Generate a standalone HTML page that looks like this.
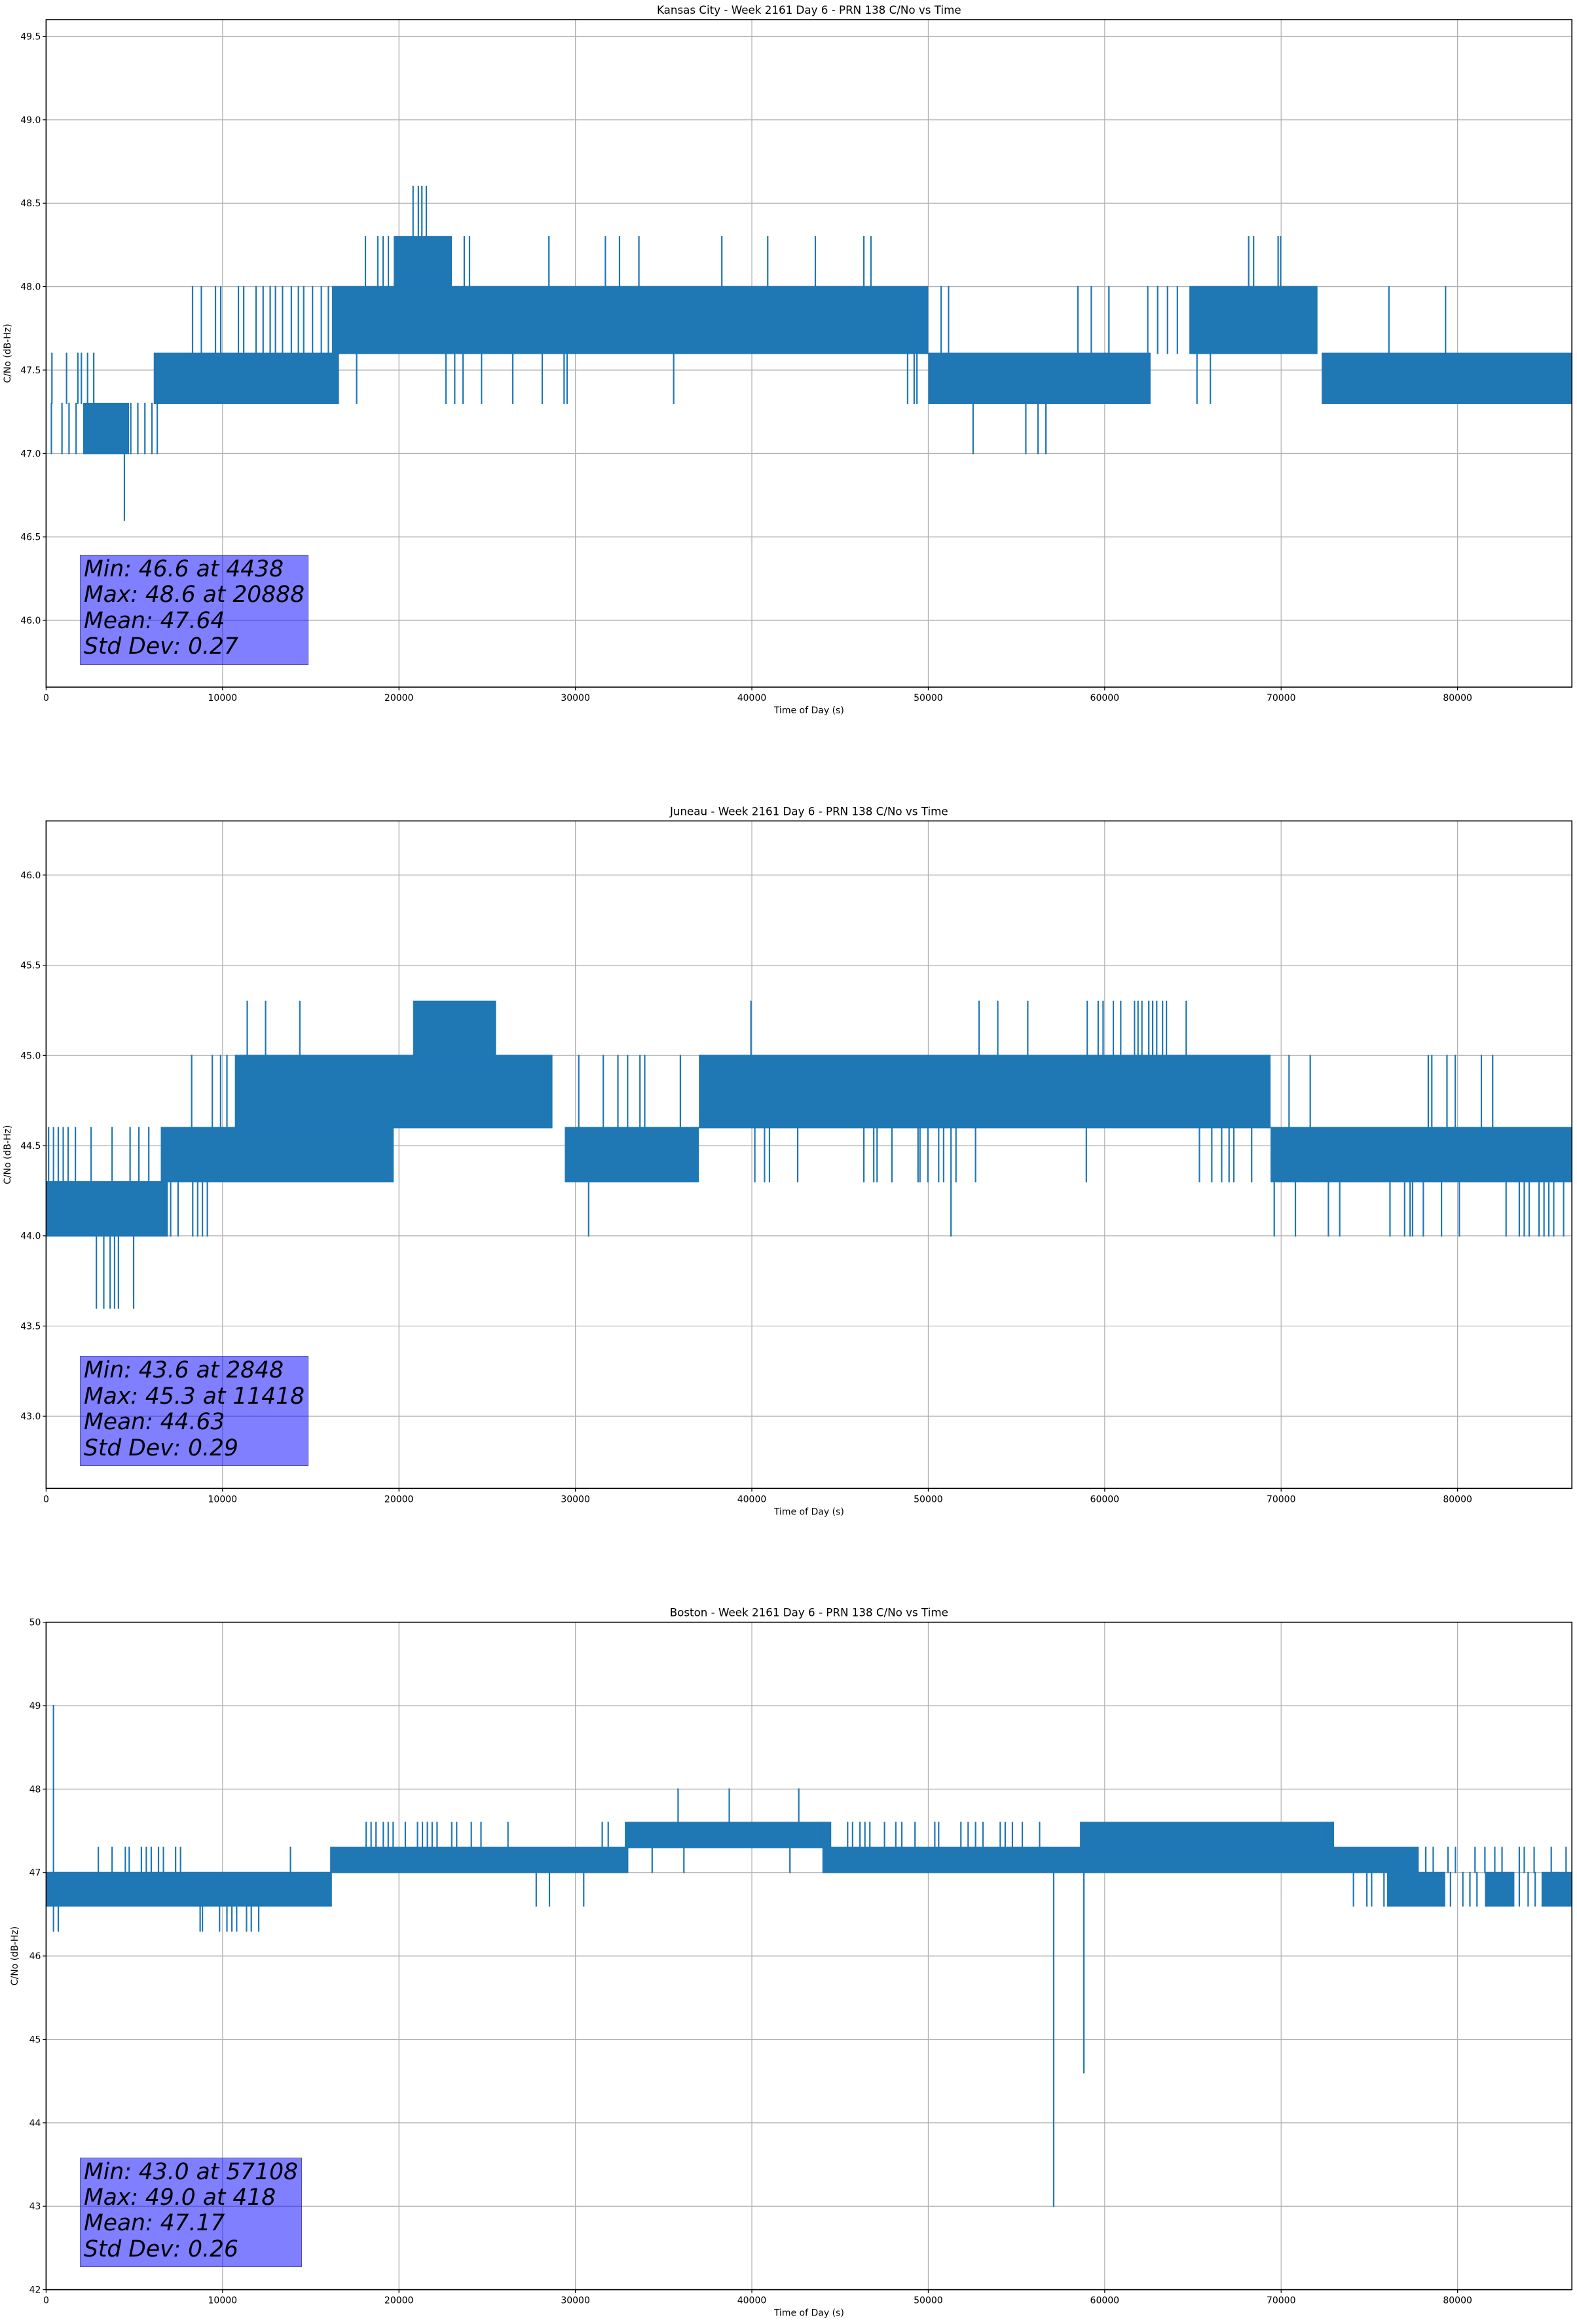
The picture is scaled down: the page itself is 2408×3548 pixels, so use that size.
<!DOCTYPE html>
<html><head><meta charset="utf-8">
<style>
html,body{margin:0;padding:0;background:#fff;}
body{width:2408px;height:3548px;position:relative;overflow:hidden;font-family:"DejaVu Sans","Liberation Sans",sans-serif;}
svg{position:absolute;left:0;top:0;}
.stats{position:absolute;background:rgba(0,0,255,0.5);border:1.5px solid rgba(0,0,0,0.35);padding:2px 5px 6px 5px;font-style:italic;font-size:34.5px;line-height:39.4px;color:#000;white-space:nowrap;font-family:"DejaVu Sans","Liberation Sans",sans-serif;}
</style></head>
<body>
<svg id="chart" width="2408" height="3548" xmlns="http://www.w3.org/2000/svg"></svg>
<div class="stats" id="stats0">Min: 46.6 at 4438<br>Max: 48.6 at 20888<br>Mean: 47.64<br>Std Dev: 0.27</div>
<div class="stats" id="stats1">Min: 43.6 at 2848<br>Max: 45.3 at 11418<br>Mean: 44.63<br>Std Dev: 0.29</div>
<div class="stats" id="stats2">Min: 43.0 at 57108<br>Max: 49.0 at 418<br>Mean: 47.17<br>Std Dev: 0.26</div>
<script>
// ---------- data ----------
const titles = ["Kansas City - Week 2161 Day 6 - PRN 138 C/No vs Time","Juneau - Week 2161 Day 6 - PRN 138 C/No vs Time","Boston - Week 2161 Day 6 - PRN 138 C/No vs Time"];
const xTicks = [0,10000,20000,30000,40000,50000,60000,70000,80000];
const xMax = 86480;
const yMins = [45.6, 42.6, 42];
const yMaxs = [49.6, 46.3, 50];
const yTicks0 = [46.0,46.5,47.0,47.5,48.0,48.5,49.0,49.5];
const yTicks1 = [43.0,43.5,44.0,44.5,45.0,45.5,46.0];
const yTicks2 = [42,43,44,45,46,47,48,49,50];

// Kansas City
const kcBandStart = [2100,6100,16200,19700,50000,64800,72300];
const kcBandEnd   = [4700,16600,50000,23000,62600,72060,86480];
const kcBandLow   = [47.0,47.3,47.6,48.0,47.3,47.6,47.3];
const kcBandHigh  = [47.3,47.6,48.0,48.3,47.6,48.0,47.6];
const kcSpikeT    = [330,1160,1800,2000,2350,2700,300,900,1300,1700,4438,4800,5200,5600,6000,6300,8300,8800,9600,9900,10900,11200,11900,12300,12700,13000,13400,13900,14300,14600,15100,15600,16000,18100,18800,19100,19400,23700,24000,28500,31700,32500,33600,38300,40900,43600,46350,46750,68160,68440,69830,69970,20800,21100,21300,21550,17600,22660,23160,23630,24680,26450,28120,29360,29530,35570,48830,49200,49360,52540,55530,56220,56670,50730,51150,58480,59240,60240,62440,63000,63560,64120,65230,65990,76110,79320];
const kcSpikeLow  = [47.3,47.3,47.3,47.3,47.3,47.3,47.0,47.0,47.0,47.0,46.6,47.0,47.0,47.0,47.0,47.0,47.6,47.6,47.6,47.6,47.6,47.6,47.6,47.6,47.6,47.6,47.6,47.6,47.6,47.6,47.6,47.6,47.6,48.0,48.0,48.0,48.0,48.0,48.0,48.0,48.0,48.0,48.0,48.0,48.0,48.0,48.0,48.0,48.0,48.0,48.0,48.0,48.3,48.3,48.3,48.3,47.3,47.3,47.3,47.3,47.3,47.3,47.3,47.3,47.3,47.3,47.3,47.3,47.3,47.0,47.0,47.0,47.0,47.6,47.6,47.6,47.6,47.6,47.6,47.6,47.6,47.6,47.3,47.3,47.6,47.6];
const kcSpikeHigh = [47.6,47.6,47.6,47.6,47.6,47.6,47.3,47.3,47.3,47.3,47.0,47.3,47.3,47.3,47.3,47.3,48.0,48.0,48.0,48.0,48.0,48.0,48.0,48.0,48.0,48.0,48.0,48.0,48.0,48.0,48.0,48.0,48.0,48.3,48.3,48.3,48.3,48.3,48.3,48.3,48.3,48.3,48.3,48.3,48.3,48.3,48.3,48.3,48.3,48.3,48.3,48.3,48.6,48.6,48.6,48.6,47.6,47.6,47.6,47.6,47.6,47.6,47.6,47.6,47.6,47.6,47.6,47.6,47.6,47.3,47.3,47.3,47.3,48.0,48.0,48.0,48.0,48.0,48.0,48.0,48.0,48.0,47.6,47.6,48.0,48.0];

// Juneau
const jnBandStart = [0,6500,10700,20800,29400,37000,69400];
const jnBandEnd   = [6900,19700,28700,25500,37000,69400,86480];
const jnBandLow   = [44.0,44.3,44.6,45.0,44.3,44.6,44.3];
const jnBandHigh  = [44.3,44.6,45.0,45.3,44.6,45.0,44.6];
const jnSpikeT    = [140,420,690,970,1250,1660,2550,3740,4760,5260,5820,2850,3270,3630,3880,4100,4960,7060,7480,8310,8590,8860,9140,8250,9420,9890,10250,11400,12440,14380,39950,52880,53940,55640,59010,59630,59910,60490,60910,61690,61890,62110,62500,62720,62950,63280,63500,64620,40170,40720,41000,42600,46350,46910,47100,47940,49420,49530,49980,50590,50870,51290,51570,52680,58960,65370,66070,66630,67050,67320,68330,51290,70450,71650,78340,78540,79400,79870,81350,81990,30190,31580,32410,32960,33660,33930,35950,30750,69610,70810,72680,73320,76170,77000,77310,77450,78060,79090,80100,82750,83500,83780,84060,84620,84900,85170,85450,86010];
const jnSpikeLow  = [44.3,44.3,44.3,44.3,44.3,44.3,44.3,44.3,44.3,44.3,44.3,43.6,43.6,43.6,43.6,43.6,43.6,44.0,44.0,44.0,44.0,44.0,44.0,44.6,44.6,44.6,44.6,45.0,45.0,45.0,45.0,45.0,45.0,45.0,45.0,45.0,45.0,45.0,45.0,45.0,45.0,45.0,45.0,45.0,45.0,45.0,45.0,45.0,44.3,44.3,44.3,44.3,44.3,44.3,44.3,44.3,44.3,44.3,44.3,44.3,44.3,44.3,44.3,44.3,44.3,44.3,44.3,44.3,44.3,44.3,44.3,44.0,44.6,44.6,44.6,44.6,44.6,44.6,44.6,44.6,44.6,44.6,44.6,44.6,44.6,44.6,44.6,44.0,44.0,44.0,44.0,44.0,44.0,44.0,44.0,44.0,44.0,44.0,44.0,44.0,44.0,44.0,44.0,44.0,44.0,44.0,44.0,44.0];
const jnSpikeHigh = [44.6,44.6,44.6,44.6,44.6,44.6,44.6,44.6,44.6,44.6,44.6,44.0,44.0,44.0,44.0,44.0,44.0,44.3,44.3,44.3,44.3,44.3,44.3,45.0,45.0,45.0,45.0,45.3,45.3,45.3,45.3,45.3,45.3,45.3,45.3,45.3,45.3,45.3,45.3,45.3,45.3,45.3,45.3,45.3,45.3,45.3,45.3,45.3,44.6,44.6,44.6,44.6,44.6,44.6,44.6,44.6,44.6,44.6,44.6,44.6,44.6,44.6,44.6,44.6,44.6,44.6,44.6,44.6,44.6,44.6,44.6,44.3,45.0,45.0,45.0,45.0,45.0,45.0,45.0,45.0,45.0,45.0,45.0,45.0,45.0,45.0,45.0,44.3,44.3,44.3,44.3,44.3,44.3,44.3,44.3,44.3,44.3,44.3,44.3,44.3,44.3,44.3,44.3,44.3,44.3,44.3,44.3,44.3];

// Boston
const bsBandStart = [0,16100,32800,58600,44000,76000,81550,84760];
const bsBandEnd   = [16200,33000,44500,73000,77800,79300,83220,86480];
const bsBandLow   = [46.6,47.0,47.3,47.3,47.0,46.6,46.6,46.6];
const bsBandHigh  = [47.0,47.3,47.6,47.6,47.3,47.0,47.0,47.0];
const bsSpikeT    = [418,420,690,8730,8860,9830,10250,10530,10800,11360,11630,12050,2960,3740,4490,4710,5400,5680,5960,6370,6650,7340,7620,13850,18140,18420,18700,19110,19390,19670,20360,21050,21330,21610,21880,22160,22990,23270,24100,24650,26180,31520,31860,27780,28530,30470,35820,38720,42660,34350,36150,42160,57108,58820,44040,45430,45710,46130,46410,46690,47520,48160,48500,49250,50370,50590,51850,52260,52680,53100,54080,54360,54770,55330,56310,78200,78620,79460,79880,80990,81550,82110,82520,83500,83780,84340,85310,86150,74100,74860,75130,75830,72620,72900,79600,80300,80700,81100,83500,84000,84400];
const bsSpikeLow  = [46.6,46.3,46.3,46.3,46.3,46.3,46.3,46.3,46.3,46.3,46.3,46.3,47.0,47.0,47.0,47.0,47.0,47.0,47.0,47.0,47.0,47.0,47.0,47.0,47.3,47.3,47.3,47.3,47.3,47.3,47.3,47.3,47.3,47.3,47.3,47.3,47.3,47.3,47.3,47.3,47.3,47.3,47.3,46.6,46.6,46.6,47.6,47.6,47.6,47.0,47.0,47.0,43.0,44.6,47.3,47.3,47.3,47.3,47.3,47.3,47.3,47.3,47.3,47.3,47.3,47.3,47.3,47.3,47.3,47.3,47.3,47.3,47.3,47.3,47.3,47.0,47.0,47.0,47.0,47.0,47.0,47.0,47.0,47.0,47.0,47.0,47.0,47.0,46.6,46.6,46.6,46.6,47.3,47.3,46.6,46.6,46.6,46.6,46.6,46.6,46.6];
const bsSpikeHigh = [49.0,46.6,46.6,46.6,46.6,46.6,46.6,46.6,46.6,46.6,46.6,46.6,47.3,47.3,47.3,47.3,47.3,47.3,47.3,47.3,47.3,47.3,47.3,47.3,47.6,47.6,47.6,47.6,47.6,47.6,47.6,47.6,47.6,47.6,47.6,47.6,47.6,47.6,47.6,47.6,47.6,47.6,47.6,47.0,47.0,47.0,48.0,48.0,48.0,47.3,47.3,47.3,47.0,47.0,47.6,47.6,47.6,47.6,47.6,47.6,47.6,47.6,47.6,47.6,47.6,47.6,47.6,47.6,47.6,47.6,47.6,47.6,47.6,47.6,47.6,47.3,47.3,47.3,47.3,47.3,47.3,47.3,47.3,47.3,47.3,47.3,47.3,47.3,47.0,47.0,47.0,47.0,47.6,47.6,47.0,47.0,47.0,47.0,47.0,47.0,47.0];

// ---------- layout ----------
const L = 70.4, R = 2400.2, H = 1019, tops = [30, 1253.3, 2476.6];
const NS = "http://www.w3.org/2000/svg";
const svg = document.getElementById('chart');
function mk(tag, attrs, parent){ const e=document.createElementNS(NS,tag); for(const k in attrs) e.setAttribute(k,attrs[k]); (parent||svg).appendChild(e); return e; }
function xPix(t){ return L + t / xMax * (R - L); }

const plots = [
  {key:'kansas-city', yt:yTicks0, dec:1, bs:kcBandStart, be:kcBandEnd, bl:kcBandLow, bh:kcBandHigh, st:kcSpikeT, sl:kcSpikeLow, sh:kcSpikeHigh, ylx:16},
  {key:'juneau', yt:yTicks1, dec:1, bs:jnBandStart, be:jnBandEnd, bl:jnBandLow, bh:jnBandHigh, st:jnSpikeT, sl:jnSpikeLow, sh:jnSpikeHigh, ylx:16},
  {key:'boston', yt:yTicks2, dec:0, bs:bsBandStart, be:bsBandEnd, bl:bsBandLow, bh:bsBandHigh, st:bsSpikeT, sl:bsSpikeLow, sh:bsSpikeHigh, ylx:27}
];

plots.forEach((p, i) => {
  const top = tops[i], bot = top + H;
  const yPix = v => bot - (v - yMins[i]) / (yMaxs[i] - yMins[i]) * H;
  const g = mk('g', {});
  
  
  xTicks.forEach(t => {
    const ln = mk('line', {x1:xPix(t), x2:xPix(t), y1:top, y2:bot, stroke:'#b0b0b0', 'stroke-width':1.2}, g);
    
    
  });
  p.yt.forEach(v => {
    const ln = mk('line', {x1:L, x2:R, y1:yPix(v), y2:yPix(v), stroke:'#b0b0b0', 'stroke-width':1.2}, g);
    
    
  });
  const cp = mk('clipPath', {id:'clip'+i}, g);
  mk('rect', {x:L, y:top, width:R-L, height:H}, cp);
  const dg = mk('g', {'clip-path':'url(#clip'+i+')'}, g);
  
  
  p.bs.forEach((s, k) => {
    const x0 = xPix(s), x1 = xPix(p.be[k]);
    const y0 = yPix(p.bh[k]), y1 = yPix(p.bl[k]);
    const r = mk('rect', {x:x0, y:y0-1, width:x1-x0, height:y1-y0+2, fill:'#1f77b4'}, dg);
    
    
  });
  p.st.forEach((t, k) => {
    const x = xPix(t);
    const ln = mk('line', {x1:x, x2:x, y1:yPix(p.sl[k])+1, y2:yPix(p.sh[k])-1, stroke:'#1f77b4', 'stroke-width':2.2}, dg);
    
    
  });
  const fr = mk('rect', {x:L, y:top, width:R-L, height:H, fill:'none', stroke:'#000', 'stroke-width':1.6}, g);
  
  
  xTicks.forEach(t => {
    mk('line', {x1:xPix(t), x2:xPix(t), y1:bot, y2:bot+5, stroke:'#000', 'stroke-width':1.2}, g);
    const tx = mk('text', {x:xPix(t), y:bot+21, 'font-size':14, 'text-anchor':'middle', fill:'#000'}, g);
    tx.textContent = String(t);
    
    
  });
  p.yt.forEach(v => {
    mk('line', {x1:L-5, x2:L, y1:yPix(v), y2:yPix(v), stroke:'#000', 'stroke-width':1.2}, g);
    const tx = mk('text', {x:L-8, y:yPix(v)+5, 'font-size':14, 'text-anchor':'end', fill:'#000'}, g);
    tx.textContent = v.toFixed(p.dec);
    
    
  });
  const ti = mk('text', {x:(L+R)/2, y:top-9, 'font-size':16.7, 'text-anchor':'middle', fill:'#000'}, g);
  ti.textContent = titles[i];
  
  
  const xl = mk('text', {x:(L+R)/2, y:bot+40, 'font-size':14, 'text-anchor':'middle', fill:'#000'}, g);
  xl.textContent = 'Time of Day (s)';
  
  
  const cy = top + H/2;
  const yl = mk('text', {x:p.ylx, y:cy, 'font-size':14, 'text-anchor':'middle', fill:'#000', transform:'rotate(-90 '+p.ylx+' '+cy+')'}, g);
  yl.textContent = 'C/No (dB-Hz)';
  
  
  const sb = document.getElementById('stats'+i);
  sb.style.left = '122px';
  sb.style.top = (bot - 202) + 'px';
});
</script>
</body></html>
